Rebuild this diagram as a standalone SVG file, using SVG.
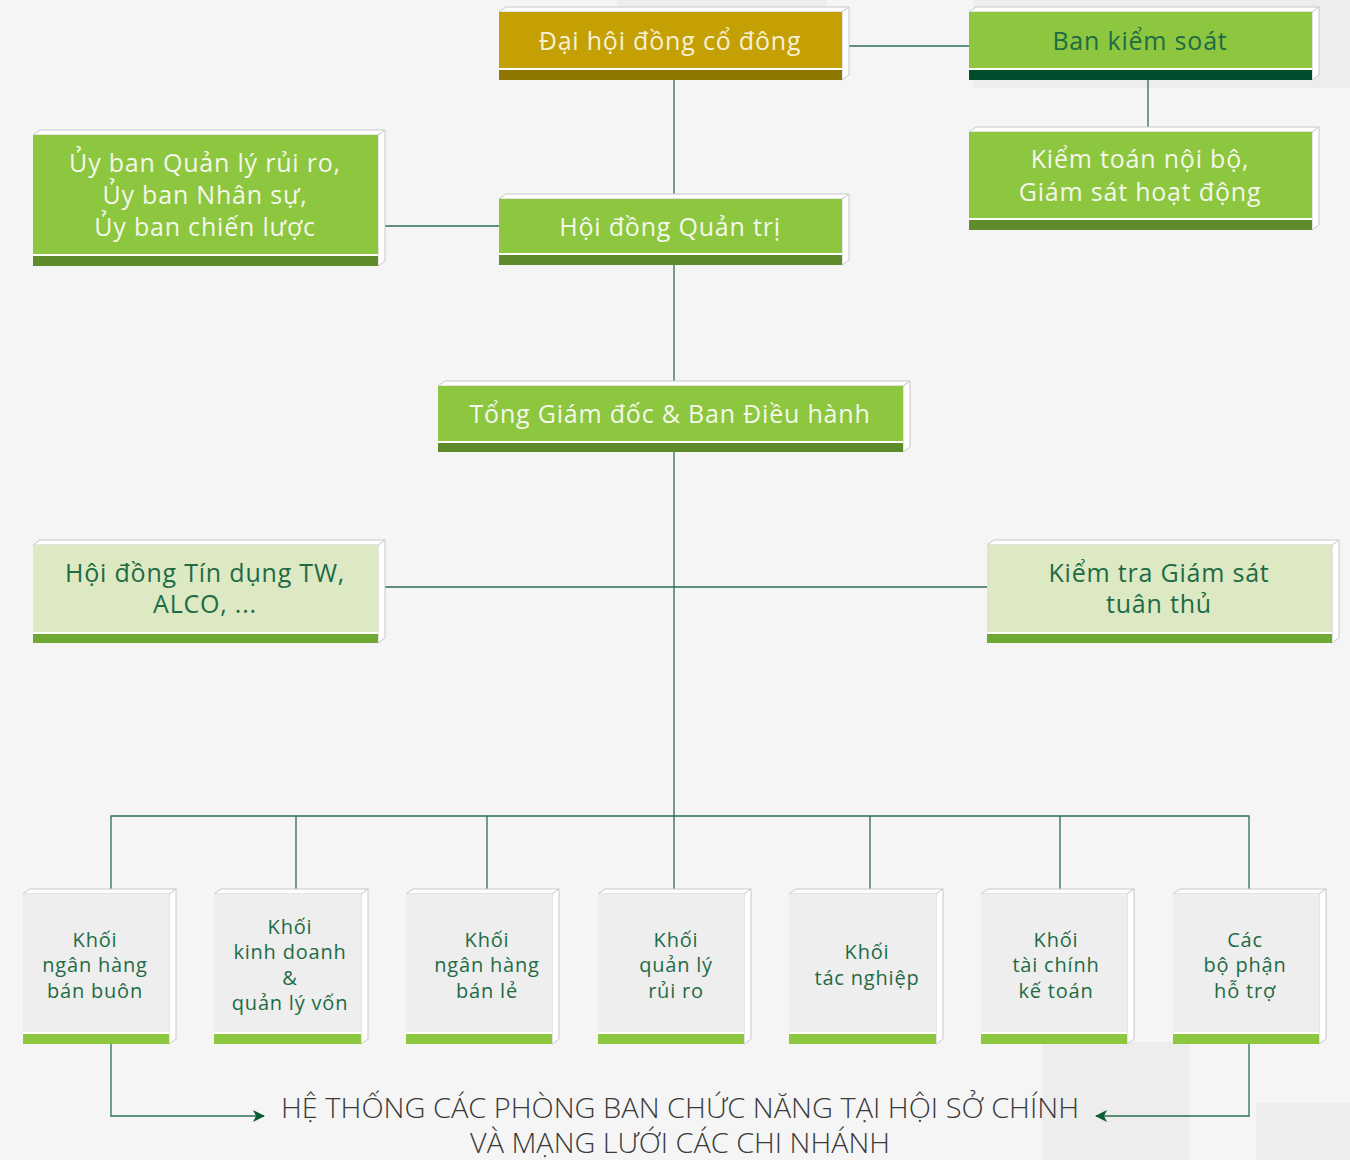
<svg xmlns="http://www.w3.org/2000/svg" width="1350" height="1160" viewBox="0 0 1350 1160">
<style>
.face{fill:#ffffff;stroke:#c8c8c8;stroke-width:1}
.t{font-family:"Open Sans","Noto Sans",sans-serif;text-anchor:middle;letter-spacing:0.8px}
.big{font-size:25px}
.sm{font-size:20px;fill:#1e6b45}
.w{fill:#f4f8ea}
.dg{fill:#1e6b45}
.conn{fill:none;stroke:#2a6e50;stroke-width:1.3}
.gold{fill:#c5a005}
.green{fill:#8dc63f}
.pale{fill:#dce9c3}
.gray{fill:#eeeeee}
</style>
<defs>
<marker id="arr" viewBox="0 0 12 12" refX="11" refY="6" markerWidth="12" markerHeight="12" markerUnits="userSpaceOnUse" orient="auto">
<path d="M0,0 L12,6 L0,12 L3,6 Z" fill="#0d5c36"/>
</marker>
</defs>
<rect width="1350" height="1160" fill="#f5f5f5"/>
<g id="bg-deco" fill="#ededed">
<rect x="617" y="0" width="210" height="10"/>
<rect x="973" y="0" width="377" height="88"/>
<rect x="1042" y="1042" width="148" height="118"/>
<rect x="1256" y="1103" width="94" height="57"/>
</g>
<g id="connectors">
<path class="conn" d="M849,46 H969"/>
<path class="conn" d="M1148,80 V127"/>
<path class="conn" d="M674,80 V194"/>
<path class="conn" d="M385,226 H499"/>
<path class="conn" d="M674,265 V381"/>
<path class="conn" d="M674,452 V889"/>
<path class="conn" d="M385,587 H987"/>
<path class="conn" d="M111,889 V816 H1249 V889"/>
<path class="conn" d="M296,816 V889 M487,816 V889 M870,816 V889 M1060,816 V889"/>
<path class="conn" d="M111,1044 V1116 H264" marker-end="url(#arr)"/>
<path class="conn" d="M1249,1044 V1116 H1096" marker-end="url(#arr)"/>
</g>
<g id="n-dhdcd">
<polygon class="face" points="499,12 506,7 849,7 842,12"/>
<polygon class="face" points="842,12 849,7 849,75 842,80"/>
<rect class="gold" x="499" y="12" width="343" height="68"/>
<rect fill="#ffffff" x="499" y="68" width="343" height="2"/>
<rect fill="#8f7600" x="499" y="70" width="343" height="10"/>
<text class="t big" fill="#f6f1d6" x="670" y="50">Đại hội đồng cổ đông</text>
</g>
<g id="n-bks">
<polygon class="face" points="969,12 976,7 1319,7 1312,12"/>
<polygon class="face" points="1312,12 1319,7 1319,75 1312,80"/>
<rect class="green" x="969" y="12" width="343" height="68"/>
<rect fill="#ffffff" x="969" y="68" width="343" height="2"/>
<rect fill="#004d2e" x="969" y="70" width="343" height="10"/>
<text class="t big dg" x="1140" y="50">Ban kiểm soát</text>
</g>
<g id="n-ktnb">
<polygon class="face" points="969,132 976,127 1319,127 1312,132"/>
<polygon class="face" points="1312,132 1319,127 1319,225 1312,230"/>
<rect class="green" x="969" y="132" width="343" height="98"/>
<rect fill="#ffffff" x="969" y="218" width="343" height="2"/>
<rect fill="#5e8c2a" x="969" y="220" width="343" height="10"/>
<text class="t big w" x="1140" y="168">Kiểm toán nội bộ,</text>
<text class="t big w" x="1140" y="201">Giám sát hoạt động</text>
</g>
<g id="n-uyban">
<polygon class="face" points="33,135 40,130 385,130 378,135"/>
<polygon class="face" points="378,135 385,130 385,261 378,266"/>
<rect class="green" x="33" y="135" width="345" height="131"/>
<rect fill="#ffffff" x="33" y="254" width="345" height="2"/>
<rect fill="#5e8c2a" x="33" y="256" width="345" height="10"/>
<text class="t big w" x="205" y="172">Ủy ban Quản lý rủi ro,</text>
<text class="t big w" x="205" y="204">Ủy ban Nhân sự,</text>
<text class="t big w" x="205" y="236">Ủy ban chiến lược</text>
</g>
<g id="n-hdqt">
<polygon class="face" points="499,199 506,194 849,194 842,199"/>
<polygon class="face" points="842,199 849,194 849,260 842,265"/>
<rect class="green" x="499" y="199" width="343" height="66"/>
<rect fill="#ffffff" x="499" y="253" width="343" height="2"/>
<rect fill="#5e8c2a" x="499" y="255" width="343" height="10"/>
<text class="t big w" x="670" y="236">Hội đồng Quản trị</text>
</g>
<g id="n-tgd">
<polygon class="face" points="438,386 445,381 910,381 903,386"/>
<polygon class="face" points="903,386 910,381 910,447 903,452"/>
<rect class="green" x="438" y="386" width="465" height="66"/>
<rect fill="#ffffff" x="438" y="441" width="465" height="2"/>
<rect fill="#5e8c2a" x="438" y="443" width="465" height="9"/>
<text class="t big w" x="670" y="423">Tổng Giám đốc &amp; Ban Điều hành</text>
</g>
<g id="n-hdtd">
<polygon class="face" points="33,545 40,540 385,540 378,545"/>
<polygon class="face" points="378,545 385,540 385,638 378,643"/>
<rect class="pale" x="33" y="545" width="345" height="98"/>
<rect fill="#ffffff" x="33" y="632" width="345" height="2"/>
<rect fill="#6fa832" x="33" y="634" width="345" height="9"/>
<text class="t big dg" x="205" y="582">Hội đồng Tín dụng TW,</text>
<text class="t big dg" x="205" y="613">ALCO, ...</text>
</g>
<g id="n-ktgs">
<polygon class="face" points="987,545 994,540 1339,540 1332,545"/>
<polygon class="face" points="1332,545 1339,540 1339,638 1332,643"/>
<rect class="pale" x="987" y="545" width="345" height="98"/>
<rect fill="#ffffff" x="987" y="632" width="345" height="2"/>
<rect fill="#6fa832" x="987" y="634" width="345" height="9"/>
<text class="t big dg" x="1159" y="582">Kiểm tra Giám sát</text>
<text class="t big dg" x="1159" y="613">tuân thủ</text>
</g>
<g id="n-k1">
<polygon class="face" points="23,894 30,889 176,889 169,894"/>
<polygon class="face" points="169,894 176,889 176,1039 169,1044"/>
<rect class="gray" x="23" y="894" width="146" height="150"/>
<rect fill="#ffffff" x="23" y="1032" width="146" height="2"/>
<rect class="green" x="23" y="1034" width="146" height="10"/>
<text class="t sm" x="95" y="947">Khối</text>
<text class="t sm" x="95" y="972">ngân hàng</text>
<text class="t sm" x="95" y="998">bán buôn</text>
</g>
<g id="n-k2">
<polygon class="face" points="214,894 221,889 368,889 361,894"/>
<polygon class="face" points="361,894 368,889 368,1039 361,1044"/>
<rect class="gray" x="214" y="894" width="147" height="150"/>
<rect fill="#ffffff" x="214" y="1032" width="147" height="2"/>
<rect class="green" x="214" y="1034" width="147" height="10"/>
<text class="t sm" x="290" y="934">Khối</text>
<text class="t sm" x="290" y="959">kinh doanh</text>
<text class="t sm" x="290" y="985">&amp;</text>
<text class="t sm" x="290" y="1010">quản lý vốn</text>
</g>
<g id="n-k3">
<polygon class="face" points="406,894 413,889 559,889 552,894"/>
<polygon class="face" points="552,894 559,889 559,1039 552,1044"/>
<rect class="gray" x="406" y="894" width="146" height="150"/>
<rect fill="#ffffff" x="406" y="1032" width="146" height="2"/>
<rect class="green" x="406" y="1034" width="146" height="10"/>
<text class="t sm" x="487" y="947">Khối</text>
<text class="t sm" x="487" y="972">ngân hàng</text>
<text class="t sm" x="487" y="998">bán lẻ</text>
</g>
<g id="n-k4">
<polygon class="face" points="598,894 605,889 751,889 744,894"/>
<polygon class="face" points="744,894 751,889 751,1039 744,1044"/>
<rect class="gray" x="598" y="894" width="146" height="150"/>
<rect fill="#ffffff" x="598" y="1032" width="146" height="2"/>
<rect class="green" x="598" y="1034" width="146" height="10"/>
<text class="t sm" x="676" y="947">Khối</text>
<text class="t sm" x="676" y="972">quản lý</text>
<text class="t sm" x="676" y="998">rủi ro</text>
</g>
<g id="n-k5">
<polygon class="face" points="789,894 796,889 943,889 936,894"/>
<polygon class="face" points="936,894 943,889 943,1039 936,1044"/>
<rect class="gray" x="789" y="894" width="147" height="150"/>
<rect fill="#ffffff" x="789" y="1032" width="147" height="2"/>
<rect class="green" x="789" y="1034" width="147" height="10"/>
<text class="t sm" x="867" y="959">Khối</text>
<text class="t sm" x="867" y="985">tác nghiệp</text>
</g>
<g id="n-k6">
<polygon class="face" points="981,894 988,889 1134,889 1127,894"/>
<polygon class="face" points="1127,894 1134,889 1134,1039 1127,1044"/>
<rect class="gray" x="981" y="894" width="146" height="150"/>
<rect fill="#ffffff" x="981" y="1032" width="146" height="2"/>
<rect class="green" x="981" y="1034" width="146" height="10"/>
<text class="t sm" x="1056" y="947">Khối</text>
<text class="t sm" x="1056" y="972">tài chính</text>
<text class="t sm" x="1056" y="998">kế toán</text>
</g>
<g id="n-k7">
<polygon class="face" points="1173,894 1180,889 1326,889 1319,894"/>
<polygon class="face" points="1319,894 1326,889 1326,1039 1319,1044"/>
<rect class="gray" x="1173" y="894" width="146" height="150"/>
<rect fill="#ffffff" x="1173" y="1032" width="146" height="2"/>
<rect class="green" x="1173" y="1034" width="146" height="10"/>
<text class="t sm" x="1245" y="947">Các</text>
<text class="t sm" x="1245" y="972">bộ phận</text>
<text class="t sm" x="1245" y="998">hỗ trợ</text>
</g>
<g id="n-bottom">
<text font-family="'Open Sans','Noto Sans',sans-serif" font-size="28" font-weight="300" fill="#3a3a3a" text-anchor="middle" x="680" y="1118" textLength="798" lengthAdjust="spacingAndGlyphs">HỆ THỐNG CÁC PHÒNG BAN CHỨC NĂNG TẠI HỘI SỞ CHÍNH</text>
<text font-family="'Open Sans','Noto Sans',sans-serif" font-size="28" font-weight="300" fill="#3a3a3a" text-anchor="middle" x="680" y="1153" textLength="420" lengthAdjust="spacingAndGlyphs">VÀ MẠNG LƯỚI CÁC CHI NHÁNH</text>
</g>
</svg>
